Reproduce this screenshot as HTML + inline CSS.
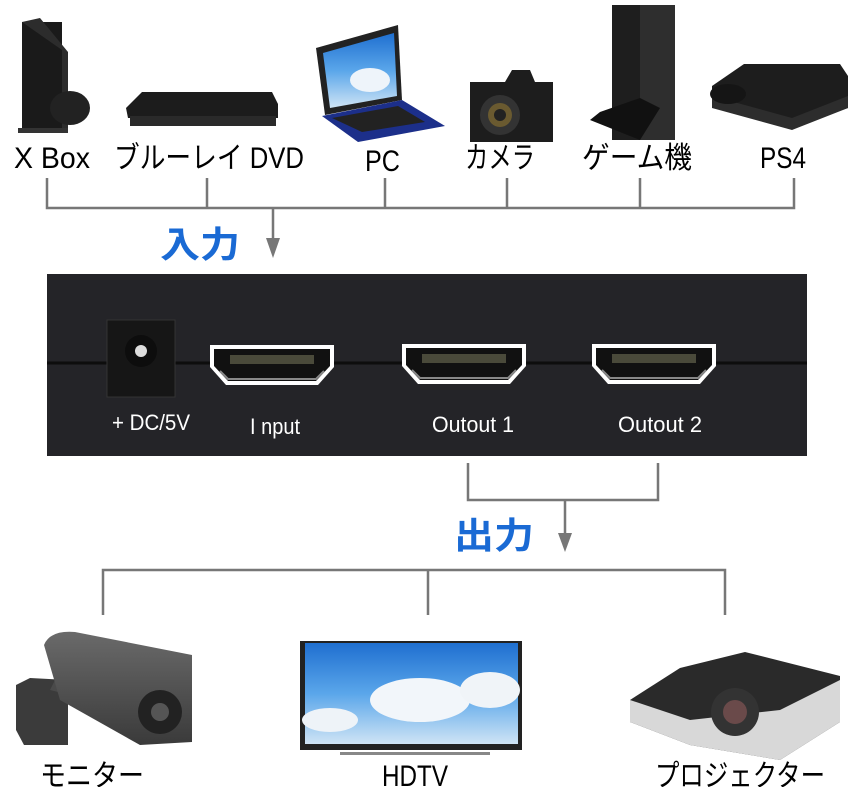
<!DOCTYPE html>
<html><head><meta charset="utf-8"><style>
html,body{margin:0;padding:0;background:#fff}
svg{display:block}
text{font-family:"Liberation Sans","Noto Sans CJK JP",sans-serif}
</style></head><body>
<svg width="860" height="787" viewBox="0 0 860 787" xmlns="http://www.w3.org/2000/svg">
<defs>
<linearGradient id="sky" x1="0" y1="0" x2="0" y2="1"><stop offset="0" stop-color="#1f6fd0"/><stop offset="0.5" stop-color="#5aa6ea"/><stop offset="1" stop-color="#cfe4f5"/></linearGradient>
<linearGradient id="gr" x1="0" y1="0" x2="0" y2="1"><stop offset="0" stop-color="#6a6a6a"/><stop offset="1" stop-color="#3a3a3a"/></linearGradient>
<g id="hdmi">
<path d="M0,0 H124 V22 L108,40 H16 L0,22 Z" fill="#fff"/>
<path d="M4,4 H120 V21 L106,36 H18 L4,21 Z" fill="#111"/>
<rect x="20" y="10" width="84" height="9" fill="#4a4a3a"/>
<path d="M10,26 L18,34 H106 L114,26" stroke="#888" stroke-width="2" fill="none"/>
</g>
</defs>
<!-- top devices -->
<rect x="22" y="22" width="40" height="110" fill="#1a1a1a"/>
<path d="M22,22 L40,18 L68,52 V130 H62 V50 Z" fill="#2c2c2c"/>
<ellipse cx="70" cy="108" rx="20" ry="17" fill="#222"/>
<rect x="18" y="128" width="50" height="5" fill="#333"/>
<path d="M126,108 L142,92 H272 L278,104 V118 H128 Z" fill="#1c1c1c"/>
<rect x="130" y="116" width="146" height="10" fill="#2a2a2a"/>
<path d="M316,48 L398,25 L402,100 L325,115 Z" fill="#222"/>
<path d="M323,53 L394,33 L397,96 L330,108 Z" fill="url(#sky)"/>
<ellipse cx="370" cy="80" rx="20" ry="12" fill="#eef4fa"/>
<path d="M322,116 L402,100 L445,126 L358,142 Z" fill="#1c2f8a"/>
<path d="M332,118 L398,106 L425,122 L362,132 Z" fill="#222"/>
<path d="M470,82 H505 L512,70 H530 L535,82 H553 V142 H470 Z" fill="#1d1d1d"/>
<circle cx="500" cy="115" r="20" fill="#333"/><circle cx="500" cy="115" r="12" fill="#6a5a30"/><circle cx="500" cy="115" r="6" fill="#222"/>
<rect x="612" y="5" width="63" height="135" fill="#1e1e1e"/>
<rect x="640" y="5" width="35" height="135" fill="#2e2e2e"/>
<path d="M590,120 L600,112 L640,98 L660,108 L640,140 Z" fill="#111"/>
<path d="M712,86 L744,64 H840 L848,76 V108 L792,128 L712,96 Z" fill="#1d1d1d"/>
<path d="M712,96 L792,118 L848,96 V108 L792,130 L712,108 Z" fill="#2d2d2d"/>
<ellipse cx="728" cy="94" rx="18" ry="10" fill="#151515"/>
<!-- top labels -->
<g font-size="30" fill="#000">
<text x="14" y="168" textLength="76" lengthAdjust="spacingAndGlyphs">X Box</text>
<text x="114" y="168" textLength="190" lengthAdjust="spacingAndGlyphs">ブルーレイ DVD</text>
<text x="365" y="171" textLength="35" lengthAdjust="spacingAndGlyphs">PC</text>
<text x="465" y="168" textLength="70" lengthAdjust="spacingAndGlyphs">カメラ</text>
<text x="582" y="168" textLength="110" lengthAdjust="spacingAndGlyphs">ゲーム機</text>
<text x="760" y="168" textLength="46" lengthAdjust="spacingAndGlyphs">PS4</text>
</g>
<!-- connectors -->
<g stroke="#777" stroke-width="2.5" fill="none">
<path d="M47,178 V208 H794 V178 M207,178 V208 M385,178 V208 M507,178 V208 M640,178 V208 M273,208 V240"/>
<path d="M103,615 V570 H725 V615 M428,570 V615"/>
<path d="M468,463 V500 H658 V463 M565,500 V535"/>
</g>
<path d="M266,238 H280 L273,258 Z" fill="#777"/>
<path d="M558,533 H572 L565,552 Z" fill="#777"/>
<text x="160" y="257" font-size="36" font-weight="bold" fill="#1a6ad4" textLength="80" lengthAdjust="spacingAndGlyphs">入力</text>
<text x="454" y="548" font-size="36" font-weight="bold" fill="#1a6ad4" textLength="80" lengthAdjust="spacingAndGlyphs">出力</text>
<!-- box -->
<rect x="47" y="274" width="760" height="182" fill="#242428"/>
<line x1="47" y1="363" x2="807" y2="363" stroke="#0d0d0d" stroke-width="3"/>
<rect x="107" y="320" width="68" height="77" fill="#161616" stroke="#333"/>
<circle cx="141" cy="351" r="16" fill="#0d0d0d"/><circle cx="141" cy="351" r="6" fill="#ddd"/>
<use href="#hdmi" x="210" y="345"/>
<use href="#hdmi" x="402" y="344"/>
<use href="#hdmi" x="592" y="344"/>
<g font-size="22" fill="#fff">
<text x="112" y="430" textLength="78" lengthAdjust="spacingAndGlyphs">+ DC/5V</text>
<text x="250" y="434" textLength="50" lengthAdjust="spacingAndGlyphs">I nput</text>
<text x="432" y="432" textLength="82" lengthAdjust="spacingAndGlyphs">Outout 1</text>
<text x="618" y="432" textLength="84" lengthAdjust="spacingAndGlyphs">Outout 2</text>
</g>
<!-- bottom devices -->
<path d="M16,730 V685 L30,678 L68,680 V745 L24,745 Z" fill="#3b3b3b"/>
<path d="M50,690 L90,700 L95,680 L60,670 Z" fill="#4a4a4a"/>
<path d="M44,645 Q50,630 75,632 L192,655 V742 L140,745 L60,700 Z" fill="url(#gr)"/>
<circle cx="160" cy="712" r="22" fill="#222"/><circle cx="160" cy="712" r="9" fill="#555"/>
<path d="M300,641 H522 V750 H300 Z" fill="#222"/>
<path d="M305,643 H518 V744 H305 Z" fill="url(#sky)"/>
<ellipse cx="420" cy="700" rx="50" ry="22" fill="#f2f6fa"/>
<ellipse cx="490" cy="690" rx="30" ry="18" fill="#f0f4f8"/>
<ellipse cx="330" cy="720" rx="28" ry="12" fill="#eef3f8"/>
<rect x="340" y="752" width="150" height="3" fill="#888"/>
<path d="M630,700 L680,668 L745,652 L840,676 V722 L780,760 L690,745 L630,722 Z" fill="#2a2a2a"/>
<path d="M630,700 L690,720 L780,710 L840,680 V722 L780,760 L690,745 L630,722 Z" fill="#d8d8d8"/>
<circle cx="735" cy="712" r="24" fill="#333"/><circle cx="735" cy="712" r="12" fill="#6a4a4a"/>
<g font-size="30" fill="#000">
<text x="40" y="786" textLength="104" lengthAdjust="spacingAndGlyphs">モニター</text>
<text x="382" y="786" textLength="66" lengthAdjust="spacingAndGlyphs">HDTV</text>
<text x="655" y="786" textLength="170" lengthAdjust="spacingAndGlyphs">プロジェクター</text>
</g>
</svg>
</body></html>
